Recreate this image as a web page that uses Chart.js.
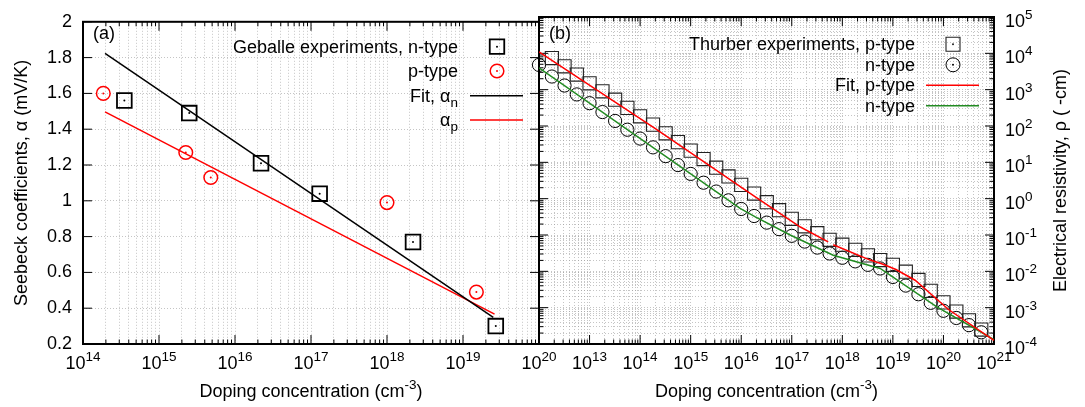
<!DOCTYPE html>
<html>
<head>
<meta charset="utf-8">
<script src="https://cdn.jsdelivr.net/npm/chart.js@4.4.0/dist/chart.umd.min.js"></script>
<style>
  body { margin: 0; background: #fff; }
  #wrap { position: relative; width: 1085px; height: 407px; }
  #wrap canvas { position: absolute; left: 0; top: 0; }
</style>
</head>
<body>
<div id="wrap">
  <canvas id="chartA" width="1085" height="407"></canvas>
  <canvas id="chartB" width="1085" height="407"></canvas>
</div>
<script>
const FONT = '"Liberation Sans", Arial, Helvetica, sans-serif';

// ---- panel (a): Seebeck coefficient vs doping (Geballe) ----
const geballeNTypeN = [3.5e14, 2.5e15, 2.2e16, 1.3e17, 2.2e18, 2.7e19];
const geballeNTypeS = [1.56, 1.49, 1.21, 1.04, 0.77, 0.30];
const geballePTypeN = [1.85e14, 2.25e15, 4.8e15, 1.0e18, 1.5e19];
const geballePTypeS = [1.60, 1.27, 1.13, 0.99, 0.49];
const fitAlphaNN = [1.95e14, 2.5e19];
const fitAlphaNS = [1.824, 0.349];
const fitAlphaPN = [1.95e14, 2.6e19];
const fitAlphaPS = [1.497, 0.367];
const seebeckTicks = [0.2, 0.4, 0.6, 0.8, 1.0, 1.2, 1.4, 1.6, 1.8, 2.0];
const decadesA = [14, 15, 16, 17, 18, 19, 20];

// ---- panel (b): resistivity vs doping (Thurber) ----
const thurberN = [
  1e12, 1.8e12, 3.2e12, 5.6e12,
  1e13, 1.8e13, 3.2e13, 5.6e13,
  1e14, 1.8e14, 3.2e14, 5.6e14,
  1e15, 1.8e15, 3.2e15, 5.6e15,
  1e16, 1.8e16, 3.2e16, 5.6e16,
  1e17, 1.8e17, 3.2e17, 5.6e17,
  1e18, 1.8e18, 3.2e18, 5.6e18,
  1e19, 1.8e19, 3.2e19, 5.6e19,
  1e20, 1.8e20, 3.2e20, 5.6e20
];
const thurberRhoP = [
  null, 7.4e3, 4.4e3, 2.6e3,
  1.5e3, 900, 530, 315,
  185, 109, 63, 36,
  21, 12.3, 7.1, 4.1,
  2.4, 1.38, 0.80, 0.48,
  0.28, 0.174, 0.112, 0.074,
  0.054, 0.039, 0.0275, 0.0204,
  0.0151, 0.0098, 0.0058, 0.0029,
  0.0014, 0.00078, 0.00045, 0.00025
];
const thurberRhoN = [
  4.8e3, 2.3e3, 1.3e3, 740,
  425, 242, 138, 79,
  45, 25.8, 14.8, 8.4,
  4.8, 2.75, 1.57, 0.90,
  0.52, 0.333, 0.219, 0.145,
  0.095, 0.066, 0.045, 0.031,
  0.0236, 0.0188, 0.0151, 0.012,
  0.0070, 0.00405, 0.00234, 0.00136,
  0.00082, 0.00052, 0.00033, 0.00021
];
const fitRhoPN = [1e12, 2e14, 1.9e16, 1.48e17, 5.25e17, 5.9e17, 6.6e17, 3.55e18, 6.0e18, 1.15e19, 2.75e19, 1.26e20, 1e21];
const fitRhoPV = [1.1e4, 85, 1.12, 0.166, 0.0646, null, 0.0537, 0.0204, 0.0162, 0.0112, 0.00569, 0.00089, 0.000126];
const fitRhoNN = [1e12, 9.5e15, 1.9e16, 9.3e16, 6.6e17, 5.6e18, 7.4e19, 1e21];
const fitRhoNV = [4.0e3, 0.537, 0.316, 0.1, 0.0278, 0.012, 0.00105, 0.000132];
const decadesBx = [13, 14, 15, 16, 17, 18, 19, 20, 21];
const decadesBy = [-4, -3, -2, -1, 0, 1, 2, 3, 4, 5];

Chart.defaults.font.family = FONT;
Chart.defaults.font.size = 18;
Chart.defaults.color = '#000';

const pts = (xs, ys) => xs.map((x, i) => ({ x, y: ys[i] }));
const isPow10 = v => Math.abs(Math.log10(v) - Math.round(Math.log10(v))) < 1e-9;

// drop the 1.5x ticks chart.js adds, keep 1..9 x 10^n like gnuplot
const keepIntMantissa = scale => {
  scale.ticks = scale.ticks.filter(t => {
    const m = t.value / Math.pow(10, Math.floor(Math.log10(t.value) + 1e-9));
    return Math.abs(m - Math.round(m)) < 1e-6;
  });
};

const gridOpts = { color: 'rgba(150,150,150,0.55)', lineWidth: 1, drawTicks: false };
const borderOpts = { display: false, dash: [1, 2] };

// text with sub/superscript pieces
function drawRich(ctx, parts, x, y, align) {
  const fontFor = k => (k ? '13.5px ' : '18px ') + FONT;
  let total = 0;
  parts.forEach(([t, k]) => { ctx.font = fontFor(k); total += ctx.measureText(t).width; });
  let cx = align === 'right' ? x - total : align === 'center' ? x - total / 2 : x;
  ctx.textAlign = 'left';
  ctx.textBaseline = 'alphabetic';
  parts.forEach(([t, k]) => {
    ctx.font = fontFor(k);
    const dy = k === 'sub' ? 5 : k === 'sup' ? -8 : 0;
    ctx.fillText(t, cx, y + dy);
    cx += ctx.measureText(t).width;
  });
}

function pow10Parts(e) { return [['10', ''], [String(e), 'sup']]; }

function drawSymbol(ctx, s, x, y) {
  ctx.save();
  ctx.strokeStyle = s.color;
  ctx.fillStyle = s.color;
  ctx.lineWidth = s.width;
  ctx.setLineDash([]);
  ctx.beginPath();
  if (s.type === 'square') {
    ctx.rect(x - s.size / 2, y - s.size / 2, s.size, s.size);
    ctx.stroke();
  } else if (s.type === 'circle') {
    ctx.arc(x, y, s.size / 2, 0, Math.PI * 2);
    ctx.stroke();
  } else {
    ctx.moveTo(s.x1, y); ctx.lineTo(s.x2, y); ctx.stroke();
  }
  if (s.type !== 'line') {
    ctx.beginPath(); ctx.arc(x, y, 1, 0, Math.PI * 2); ctx.fill();
  }
  ctx.restore();
}

function makeDecor(cfg) {
  return {
    id: 'decor',
    beforeDatasetsDraw(chart) {
      const ctx = chart.ctx;
      const a = chart.chartArea;
      ctx.save();
      ctx.strokeStyle = '#000';
      ctx.setLineDash([]);
      ctx.lineWidth = 1;
      const seg = (x1, y1, x2, y2) => { ctx.beginPath(); ctx.moveTo(x1, y1); ctx.lineTo(x2, y2); ctx.stroke(); };
      const xs = chart.scales.x, ys = chart.scales.y;
      xs.ticks.forEach(t => {
        const len = isPow10(t.value) ? 9 : 4.5;
        const p = xs.getPixelForValue(t.value);
        seg(p, a.bottom, p, a.bottom - len);
        seg(p, a.top, p, a.top + len);
      });
      ys.ticks.forEach(t => {
        const len = (cfg.yLog && !isPow10(t.value)) ? 4.5 : 9;
        const p = ys.getPixelForValue(t.value);
        seg(a.left, p, a.left + len, p);
        seg(a.right, p, a.right - len, p);
      });
      ctx.lineWidth = 2;
      ctx.strokeRect(a.left, a.top, a.right - a.left, a.bottom - a.top);
      ctx.restore();
    },
    afterDraw(chart) {
      const ctx = chart.ctx;
      const a = chart.chartArea;
      const xs = chart.scales.x, ys = chart.scales.y;
      ctx.save();
      ctx.fillStyle = '#000';
      // log tick labels
      cfg.xDecades.forEach(e => {
        drawRich(ctx, pow10Parts(e), xs.getPixelForValue(Math.pow(10, e)), 368.5, 'center');
      });
      if (cfg.yDecades) {
        cfg.yDecades.forEach(e => {
          drawRich(ctx, pow10Parts(e), a.right + 11, ys.getPixelForValue(Math.pow(10, e)) + 10, 'left');
        });
      }
      // panel label
      ctx.font = '18px ' + FONT;
      ctx.textAlign = 'left';
      ctx.textBaseline = 'alphabetic';
      ctx.fillText(cfg.panel, a.left + 10, 39);
      // x title
      drawRich(ctx, [['Doping concentration (cm', ''], ['-3', 'sup'], [')', '']], (a.left + a.right) / 2, 397, 'center');
      // y title (rotated, reads bottom to top)
      ctx.save();
      ctx.translate(cfg.yTitleX, (a.top + a.bottom) / 2);
      ctx.rotate(-Math.PI / 2);
      ctx.font = '18px ' + FONT;
      ctx.textAlign = 'center';
      ctx.fillText(cfg.yTitle, 0, 0);
      ctx.restore();
      // legend
      cfg.legend.forEach(row => {
        drawRich(ctx, row.text, cfg.legendTextRight, row.y + 6, 'right');
        drawSymbol(ctx, row.sym, cfg.legendSymX, row.y);
      });
      ctx.restore();
    }
  };
}

// ---------------- panel (a) ----------------
new Chart(document.getElementById('chartA'), {
  type: 'scatter',
  data: {
    datasets: [
      { label: 'Fit, αn', data: pts(fitAlphaNN, fitAlphaNS), showLine: true, borderColor: '#000', borderWidth: 1.5, pointRadius: 0 },
      { label: 'αp', data: pts(fitAlphaPN, fitAlphaPS), showLine: true, borderColor: '#ff0000', borderWidth: 1.5, pointRadius: 0 },
      { label: 'n dots', data: pts(geballeNTypeN, geballeNTypeS), pointRadius: 1, backgroundColor: '#000', borderWidth: 0 },
      { label: 'p dots', data: pts(geballePTypeN, geballePTypeS), pointRadius: 1, backgroundColor: '#ff0000', borderWidth: 0 },
      { label: 'Geballe experiments, n-type', data: pts(geballeNTypeN, geballeNTypeS), pointStyle: 'rect', pointRadius: 10.4, borderColor: '#000', borderWidth: 1.8, backgroundColor: 'rgba(0,0,0,0)' },
      { label: 'p-type', data: pts(geballePTypeN, geballePTypeS), pointStyle: 'circle', pointRadius: 6.8, borderColor: '#ff0000', borderWidth: 1.5, backgroundColor: 'rgba(0,0,0,0)' }
    ]
  },
  options: {
    responsive: false,
    animation: false,
    events: [],
    layout: { padding: { left: 0, top: 17, right: 546, bottom: 0 } },
    plugins: { legend: { display: false }, tooltip: { enabled: false } },
    scales: {
      x: {
        type: 'logarithmic', min: 1e14, max: 1e20,
        afterBuildTicks: keepIntMantissa,
        afterFit: s => { s.height = 63; },
        ticks: { display: false, autoSkip: false },
        grid: gridOpts, border: borderOpts
      },
      y: {
        type: 'linear', min: 0.2, max: 2,
        afterBuildTicks: s => { s.ticks = seebeckTicks.map(v => ({ value: v })); },
        afterFit: s => { s.width = 83; },
        ticks: { padding: 11, autoSkip: false, callback: v => String(+(+v).toFixed(1)) },
        grid: gridOpts, border: borderOpts
      }
    }
  },
  plugins: [makeDecor({
    panel: '(a)',
    xDecades: decadesA,
    yLog: false,
    yTitle: 'Seebeck coefficients, α (mV/K)',
    yTitleX: 27,
    legendTextRight: 458,
    legendSymX: 497,
    legend: [
      { y: 46.7, text: [['Geballe experiments, n-type', '']], sym: { type: 'square', color: '#000', width: 1.8, size: 14.5 } },
      { y: 71, text: [['p-type', '']], sym: { type: 'circle', color: '#ff0000', width: 1.5, size: 13.6 } },
      { y: 95.7, text: [['Fit, α', ''], ['n', 'sub']], sym: { type: 'line', color: '#000', width: 1.5, x1: 470, x2: 523 } },
      { y: 120, text: [['α', ''], ['p', 'sub']], sym: { type: 'line', color: '#ff0000', width: 1.5, x1: 470, x2: 523 } }
    ]
  })]
});

// ---------------- panel (b) ----------------
new Chart(document.getElementById('chartB'), {
  type: 'scatter',
  data: {
    datasets: [
      { label: 'Fit, p-type', data: pts(fitRhoPN, fitRhoPV), showLine: true, spanGaps: false, borderColor: '#ff0000', borderWidth: 1.5, pointRadius: 0 },
      { label: 'n-type fit', data: pts(fitRhoNN, fitRhoNV), showLine: true, borderColor: '#228b22', borderWidth: 1.5, pointRadius: 0 },
      { label: 'Thurber experiments, p-type', data: pts(thurberN, thurberRhoP), pointStyle: 'rect', pointRadius: 9.3, borderColor: '#222', borderWidth: 1.1, backgroundColor: 'rgba(0,0,0,0)', clip: false },
      { label: 'n-type', data: pts(thurberN, thurberRhoN), pointStyle: 'circle', pointRadius: 6.6, borderColor: '#000', borderWidth: 1, backgroundColor: 'rgba(0,0,0,0)', clip: false }
    ]
  },
  options: {
    responsive: false,
    animation: false,
    events: [],
    layout: { padding: { left: 539, top: 17, right: 0, bottom: 0 } },
    plugins: { legend: { display: false }, tooltip: { enabled: false } },
    scales: {
      x: {
        type: 'logarithmic', min: 1e12, max: 1e21,
        afterBuildTicks: keepIntMantissa,
        afterFit: s => { s.height = 63; },
        ticks: { display: false, autoSkip: false },
        grid: gridOpts, border: borderOpts
      },
      y: {
        type: 'logarithmic', position: 'right', min: 1e-4, max: 1e5,
        afterBuildTicks: keepIntMantissa,
        afterFit: s => { s.width = 91; },
        ticks: { display: false, autoSkip: false },
        grid: gridOpts, border: borderOpts
      }
    }
  },
  plugins: [makeDecor({
    panel: '(b)',
    xDecades: decadesBx,
    yDecades: decadesBy,
    yLog: true,
    yTitle: 'Electrical resistivity, ρ ( -cm)',
    yTitleX: 1066,
    legendTextRight: 915,
    legendSymX: 953,
    legend: [
      { y: 44.3, text: [['Thurber experiments, p-type', '']], sym: { type: 'square', color: '#222', width: 1.1, size: 14 } },
      { y: 64.8, text: [['n-type', '']], sym: { type: 'circle', color: '#000', width: 1, size: 14 } },
      { y: 85.3, text: [['Fit, p-type', '']], sym: { type: 'line', color: '#ff0000', width: 1.5, x1: 926, x2: 979 } },
      { y: 105.8, text: [['n-type', '']], sym: { type: 'line', color: '#228b22', width: 1.5, x1: 926, x2: 979 } }
    ]
  })]
});
</script>
</body>
</html>
